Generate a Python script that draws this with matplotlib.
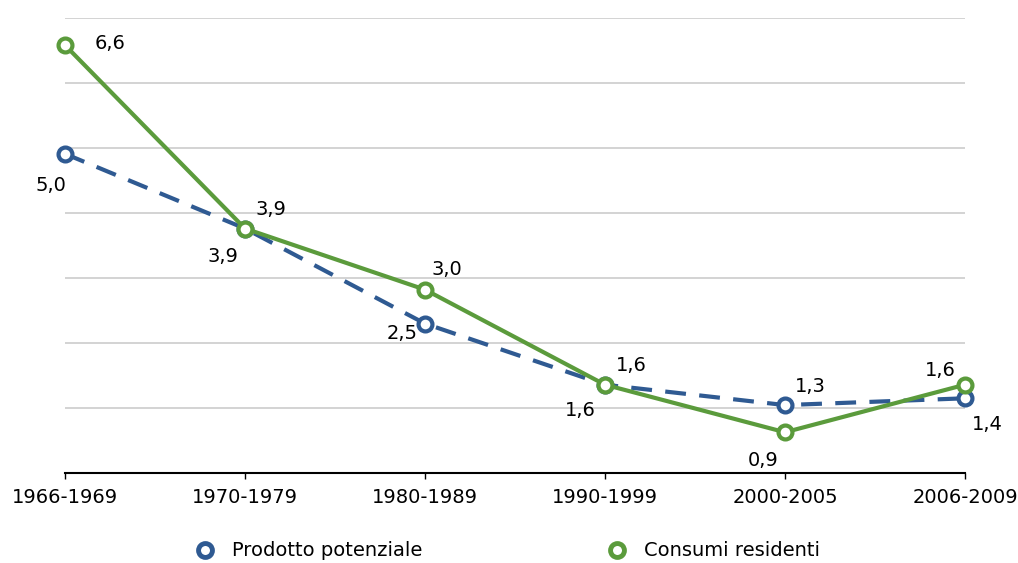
import numpy as np
import matplotlib.pyplot as plt
from matplotlib.lines import Line2D

# dati
periodi = ['1966-1969', '1970-1979', '1980-1989', '1990-1999', '2000-2005', '2006-2009']
prodotto = [5.0, 3.9, 2.5, 1.6, 1.3, 1.4]
consumi = [6.6, 3.9, 3.0, 1.6, 0.9, 1.6]

blu = '#2F5A92'
verde = '#5B9B3C'

plt.rcParams['font.family'] = ['DejaVu Sans']
fs = 14

fig = plt.figure(figsize=(10.18, 5.63), dpi=100)
ax = fig.add_axes([65 / 1018, 1 - 473 / 563, 900 / 1018, 455 / 563])

x = np.arange(len(periodi))
ax.plot(x, prodotto, color=blu, lw=3, ls=(0, (5, 3.2)), marker='o', ms=10,
        mfc='white', mec=blu, mew=3, clip_on=False, zorder=3)
ax.plot(x, consumi, color=verde, lw=3, marker='o', ms=10,
        mfc='white', mec=verde, mew=3, clip_on=False, zorder=4)

ax.set_xlim(0, 5)
ymin, ymax = 0.3, 7.0
ax.set_ylim(ymin, ymax)
for g in np.linspace(ymin, ymax, 8)[1:]:
    ax.axhline(g, color='#C8C8C8', lw=1.1, zorder=1)

# etichette dei valori (offset in pixel)
off_prod = [(-14, -32), (-22, -28), (-23, -10), (-25, -26), (25, 19), (22, -26)]
off_cons = [(45, 2), (26, 19), (22, 20), (26, 19), (-22, -28), (-25, 14)]
for i in range(len(periodi)):
    ax.annotate(f'{prodotto[i]:.1f}'.replace('.', ','), (x[i], prodotto[i]),
                xytext=off_prod[i], textcoords='offset pixels',
                ha='center', va='center', fontsize=fs, zorder=5)
    ax.annotate(f'{consumi[i]:.1f}'.replace('.', ','), (x[i], consumi[i]),
                xytext=off_cons[i], textcoords='offset pixels',
                ha='center', va='center', fontsize=fs, zorder=5)

ax.set_xticks(x)
ax.set_xticklabels(periodi, fontsize=fs)
ax.set_yticks([])
for s in ['top', 'right', 'left']:
    ax.spines[s].set_visible(False)
ax.spines['bottom'].set_linewidth(1.5)
ax.tick_params(axis='x', length=4, width=1, pad=7)

handles = [Line2D([], [], ls='none', marker='o', ms=10, mfc='white', mec=blu, mew=3.5),
           Line2D([], [], ls='none', marker='o', ms=10, mfc='white', mec=verde, mew=3.5)]
fig.legend(handles, ['Prodotto potenziale', 'Consumi residenti'], loc='center',
           bbox_to_anchor=(508 / 1018, 1 - 551 / 563), ncol=2, frameon=False,
           fontsize=fs, columnspacing=9.5, handlelength=1, handletextpad=0.9)

fig.savefig('out.png', dpi=100)
